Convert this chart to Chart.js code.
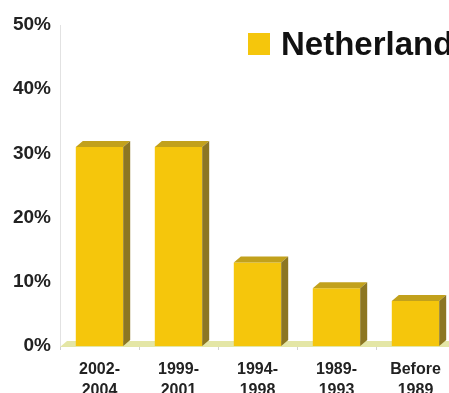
<!DOCTYPE html>
<html>
<head>
<meta charset="utf-8">
<script src="https://cdn.jsdelivr.net/npm/chart.js@4/dist/chart.umd.min.js"></script>
<style>
  html, body { margin: 0; padding: 0; background: #ffffff; overflow: hidden; }
  #wrap { width: 470px; height: 393px; }
</style>
</head>
<body>
<div id="wrap"><canvas id="c" width="470" height="393"></canvas></div>
<script>
// Share of respondents by period
const categories = [['2002-', '2004'], ['1999-', '2001'], ['1994-', '1998'], ['1989-', '1993'], ['Before', '1989']];
const shares = [31, 31, 13, 9, 7];
const seriesName = 'Netherland';

const FRONT = '#f5c60c';
const TOP = '#c2a11c';
const SIDE = '#8c7622';
const FLOOR = '#e4e6a6';
const DEPTH_X = 7;
const DEPTH_Y = 6;
const FONT = '"Liberation Sans", Arial, sans-serif';

// Floor band under the bars and 3D side/top faces on each bar
const bars3d = {
  id: 'bars3d',
  beforeDatasetsDraw(chart) {
    const { ctx, chartArea } = chart;
    const base = chart.scales.y.getPixelForValue(0);
    ctx.save();
    ctx.fillStyle = FLOOR;
    ctx.beginPath();
    ctx.moveTo(chartArea.left, base + 1);
    ctx.lineTo(chartArea.left + DEPTH_X, base - DEPTH_Y + 1);
    ctx.lineTo(chartArea.right + DEPTH_X, base - DEPTH_Y + 1);
    ctx.lineTo(chartArea.right, base + 1);
    ctx.closePath();
    ctx.fill();
    ctx.restore();
  },
  afterDatasetsDraw(chart) {
    const { ctx } = chart;
    const meta = chart.getDatasetMeta(0);
    ctx.save();
    meta.data.forEach((bar) => {
      const { x, y, width, base } = bar.getProps(['x', 'y', 'width', 'base'], true);
      const l = x - width / 2;
      const r = x + width / 2;
      // top face
      ctx.fillStyle = TOP;
      ctx.beginPath();
      ctx.moveTo(l, y);
      ctx.lineTo(l + DEPTH_X, y - DEPTH_Y);
      ctx.lineTo(r + DEPTH_X, y - DEPTH_Y);
      ctx.lineTo(r, y);
      ctx.closePath();
      ctx.fill();
      // side face
      ctx.fillStyle = SIDE;
      ctx.beginPath();
      ctx.moveTo(r, y);
      ctx.lineTo(r + DEPTH_X, y - DEPTH_Y);
      ctx.lineTo(r + DEPTH_X, base - DEPTH_Y);
      ctx.lineTo(r, base);
      ctx.closePath();
      ctx.fill();
    });
    ctx.restore();
  }
};

// Legend swatch and series name in the upper right
const seriesLegend = {
  id: 'seriesLegend',
  afterDraw(chart) {
    const { ctx } = chart;
    const ds = chart.data.datasets[0];
    ctx.save();
    ctx.fillStyle = ds.backgroundColor;
    ctx.fillRect(248, 33, 22, 22);
    ctx.fillStyle = '#111111';
    ctx.font = 'bold 33px ' + FONT;
    ctx.textBaseline = 'alphabetic';
    ctx.textAlign = 'left';
    ctx.fillText(ds.label, 281, 55);
    ctx.restore();
  }
};

new Chart(document.getElementById('c'), {
  type: 'bar',
  data: {
    labels: categories,
    datasets: [{
      label: seriesName,
      data: shares,
      backgroundColor: FRONT,
      borderWidth: 0,
      barPercentage: 0.6,
      categoryPercentage: 1
    }]
  },
  options: {
    responsive: false,
    devicePixelRatio: 1,
    animation: false,
    layout: { padding: { top: 25, right: 15, left: 0, bottom: 0 } },
    plugins: { legend: { display: false }, tooltip: { enabled: false } },
    scales: {
      x: {
        offset: true,
        grid: { display: true, drawOnChartArea: false, offset: true, tickLength: 4, color: '#d0d0d0' },
        border: { display: false },
        ticks: {
          color: '#222222',
          font: { family: FONT, size: 16, weight: 'bold', lineHeight: 1.3 },
          padding: 9,
          maxRotation: 0,
          autoSkip: false
        },
        afterFit(scale) { scale.height = 47; }
      },
      y: {
        min: 0,
        max: 50,
        grid: { display: false, drawTicks: false },
        border: { display: true, color: '#e2e2e2', width: 1 },
        ticks: {
          stepSize: 10,
          color: '#222222',
          padding: 9,
          font: { family: FONT, size: 19, weight: 'bold' },
          callback: (v) => v + '%'
        },
        afterFit(scale) { scale.width = 60; }
      }
    }
  },
  plugins: [bars3d, seriesLegend]
});
</script>
</body>
</html>
